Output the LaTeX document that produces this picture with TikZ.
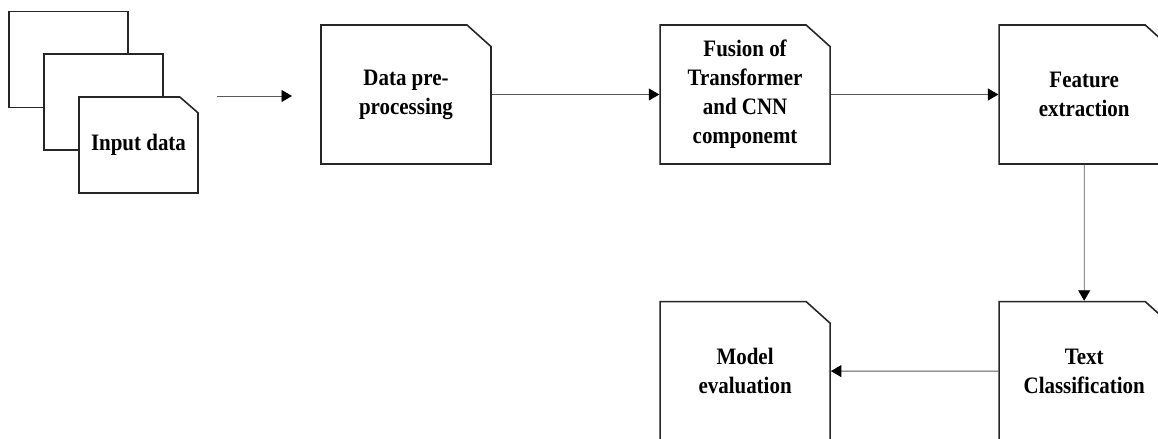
\documentclass[tikz,border=0pt]{standalone}
\usepackage{fontspec}
\setmainfont{Liberation Serif}[FakeStretch=0.89]
\usetikzlibrary{positioning, arrows.meta, shapes.misc}
\tikzset{
    >={Triangle[length=0.21cm, width=0.24cm, color=black]}, % filled black arrow heads
    node distance=3.35cm, % gap between two boxes of the flow
    card/.style={chamfered rectangle, chamfered rectangle corners=north east,
        chamfered rectangle xsep=0.36cm, chamfered rectangle angle=48,
        draw=black!85, line width=0.9pt, fill=white, inner sep=0pt,
        minimum width=3.4cm, minimum height=2.78cm, align=center,
        font=\fontsize{13.4}{16.5}\selectfont\bfseries}, % the big boxes
    smallcard/.style={card, minimum width=2.38cm, minimum height=1.92cm,
        chamfered rectangle xsep=0.24cm, chamfered rectangle angle=49}, % the input stack
    flow/.style={->, draw=black!65, line width=0.5pt}, % connectors
}
\begin{document}
\begin{tikzpicture}
    \useasboundingbox (0,0) rectangle (23.16,-8.78);

    % stack of input cards
    \node[smallcard] (in2) at (1.37,-1.19) {};
    \node[smallcard] (in1) at (2.07,-2.04) {};
    \node[smallcard] (in0) at (2.77,-2.90) {Input data};

    % main flow
    \node[card] (prep) at (8.12,-1.89) {Data pre-\\processing};
    \node[card, right=of prep] (fusion) {Fusion of\\Transformer\\and CNN\\componemt};
    \node[card, right=of fusion] (feat) {Feature\\extraction};
    \node[card, below=2.72cm of feat] (cls) {Text\\Classification};
    \node[card, left=of cls] (eval) {Model\\evaluation};

    \coordinate (a0) at (4.34,-1.92);
    \coordinate (a1) at (5.84,-1.92);

    \draw[flow] (a0) -- (a1);
    \draw[flow] (prep) -- (fusion);
    \draw[flow] (fusion) -- (feat);
    \draw[flow] (feat) -- (cls);
    \draw[flow] (cls) -- (eval);
\end{tikzpicture}
\end{document}
